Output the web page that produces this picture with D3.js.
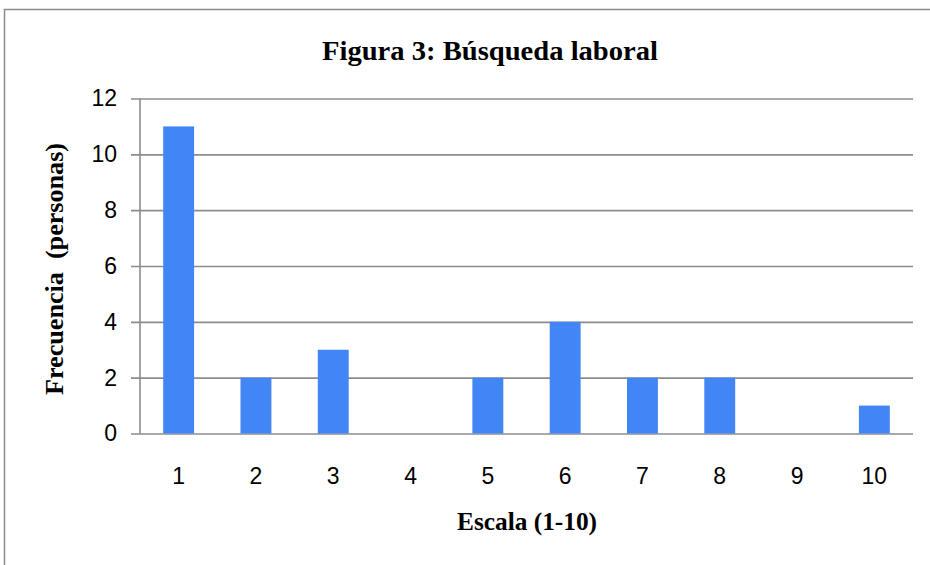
<!DOCTYPE html>
<html><head><meta charset="utf-8">
<script src="https://cdn.jsdelivr.net/npm/d3@7"></script>
<style>body{margin:0;background:#fff;}svg{display:block;}</style>
</head><body>
<script>
const categories = ["1","2","3","4","5","6","7","8","9","10"];
const values = [11,2,3,0,2,4,2,2,0,1];
const yTicks = [0,2,4,6,8,10,12];
const title = "Figura 3: Búsqueda laboral";
const xTitle = "Escala (1-10)";
const yTitle = "Frecuencia  (personas)";

const W = 930, H = 565;
const svg = d3.select("body").append("svg").attr("width", W).attr("height", H);
svg.append("rect").attr("x",4.5).attr("y",9.5).attr("width",W+10).attr("height",H+10)
  .attr("fill","#fff").attr("stroke","#8c8c8c").attr("stroke-width",1.5);

const pLeft = 140, pRight = 913, pTop = 98.5, pBottom = 433.5;
const x = d3.scaleBand().domain(categories).range([pLeft, pRight]).paddingInner(0.6).paddingOuter(0.3);
const y = d3.scaleLinear().domain([0,12]).range([pBottom, pTop]);

const tickFont = "Liberation Sans, Arial, sans-serif";
const titleFont = "Liberation Serif, Times New Roman, serif";

// gridlines
const yAxis = d3.axisLeft(y).tickValues(yTicks).tickSize(-(pRight-pLeft)).tickPadding(23);
const gy = svg.append("g").attr("transform",`translate(${pLeft},0)`).call(yAxis);
gy.select(".domain").remove();
gy.selectAll(".tick line").attr("stroke","#8c8c8c").attr("stroke-width",1.6).attr("x1",-9);
gy.selectAll(".tick text").attr("font-family",tickFont).attr("font-size",23).attr("fill","#000");

// bars
svg.append("g").selectAll("rect").data(values).join("rect")
  .attr("x",(d,i)=>x(categories[i])).attr("width",x.bandwidth())
  .attr("y",d=>y(d)).attr("height",d=>y(0)-y(d)).attr("fill","#4285f4");

// y axis line
svg.append("line").attr("x1",pLeft).attr("x2",pLeft).attr("y1",pTop).attr("y2",pBottom)
  .attr("stroke","#8c8c8c").attr("stroke-width",1.6);

// x axis labels
const xAxis = d3.axisBottom(x).tickSize(0).tickPadding(34);
const gx = svg.append("g").attr("transform",`translate(0,${pBottom})`).call(xAxis);
gx.select(".domain").remove();
gx.selectAll(".tick text").attr("font-family",tickFont).attr("font-size",23).attr("fill","#000");

svg.append("text").attr("x",490).attr("y",60).attr("text-anchor","middle")
  .attr("font-family",titleFont).attr("font-weight","bold").attr("font-size",27)
  .attr("textLength",336).attr("lengthAdjust","spacingAndGlyphs").text(title);
svg.append("text").attr("x",527).attr("y",530).attr("text-anchor","middle")
  .attr("font-family",titleFont).attr("font-weight","bold").attr("font-size",25)
  .attr("textLength",140).attr("lengthAdjust","spacingAndGlyphs").text(xTitle);
svg.append("text").attr("transform","translate(63,269) rotate(-90)").attr("text-anchor","middle")
  .attr("font-family",titleFont).attr("font-weight","bold").attr("font-size",25)
  .attr("textLength",252).attr("lengthAdjust","spacingAndGlyphs")
  .style("white-space","pre").text(yTitle);
</script>
</body></html>
